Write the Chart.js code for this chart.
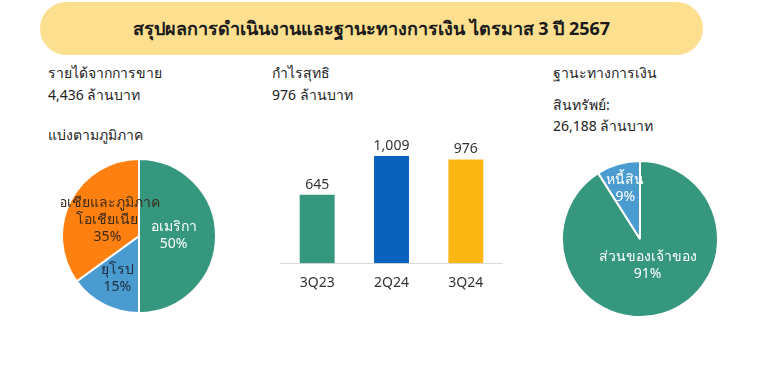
<!DOCTYPE html>
<html lang="th">
<head>
    <meta charset="UTF-8">
    <title>สรุปผลการดำเนินงาน ไตรมาส 3 ปี 2567</title>
    <script src="https://cdn.jsdelivr.net/npm/chart.js"></script>
    <style>
        body {
            margin: 0;
            width: 763px;
            height: 373px;
            position: relative;
            background: #ffffff;
            font-family: "Noto Sans", "Open Sans", sans-serif;
            color: #222;
            overflow: hidden;
        }
        .banner {
            position: absolute;
            left: 40px; top: 2px;
            width: 663px; height: 53px;
            border-radius: 27px;
            background: #fcdf8f;
            text-align: center;
            line-height: 53px;
            font-size: 18px;
            font-weight: bold;
            color: #1a1a1a;
        }
        .txt {
            position: absolute;
            font-size: 14px;
            line-height: 20px;
            white-space: nowrap;
        }
        .box { position: absolute; }
    </style>
</head>
<body>
    <div class="banner">สรุปผลการดำเนินงานและฐานะทางการเงิน ไตรมาส 3 ปี 2567</div>

    <div class="txt" style="left:48px; top:63px;">รายได้จากการขาย</div>
    <div class="txt" style="left:48px; top:85px;">4,436 ล้านบาท</div>
    <div class="txt" style="left:48px; top:125px;">แบ่งตามภูมิภาค</div>

    <div class="txt" style="left:272px; top:63px;">กำไรสุทธิ</div>
    <div class="txt" style="left:272px; top:85px;">976 ล้านบาท</div>

    <div class="txt" style="left:553px; top:63px;">ฐานะทางการเงิน</div>
    <div class="txt" style="left:553px; top:95px;">สินทรัพย์:</div>
    <div class="txt" style="left:553px; top:116px;">26,188 ล้านบาท</div>

    <div class="box" style="left:61px; top:158px; width:156px; height:156px;"><canvas id="regionPie"></canvas></div>
    <div class="box" style="left:280px; top:125px; width:223px; height:169px;"><canvas id="profitBar"></canvas></div>
    <div class="box" style="left:561px; top:160px; width:158px; height:158px;"><canvas id="balancePie"></canvas></div>

    <script>
        // รายได้แบ่งตามภูมิภาค (%)
        const regionLabels = ["อเมริกา", "ยุโรป", "เอเชียและภูมิภาค\nโอเชียเนีย"];
        const regionValues = [50, 15, 35];

        // กำไรสุทธิ (ล้านบาท)
        const quarterLabels = ["3Q23", "2Q24", "3Q24"];
        const profitValues = [645, 1009, 976];

        // ฐานะทางการเงิน (%)
        const balanceLabels = ["ส่วนของเจ้าของ", "หนี้สิน"];
        const balanceValues = [91, 9];

        const TEAL = "#35987e";
        const BLUE = "#4a9bd0";
        const ORANGE = "#fe8011";

        // เขียนชื่อ + เปอร์เซ็นต์ลงบนชิ้นพาย
        const sliceLabels = {
            id: "sliceLabels",
            afterDatasetsDraw(chart, args, opts) {
                const ctx = chart.ctx;
                const meta = chart.getDatasetMeta(0);
                ctx.save();
                ctx.font = "14px 'Noto Sans', sans-serif";
                ctx.textAlign = "center";
                ctx.textBaseline = "middle";
                meta.data.forEach((arc, i) => {
                    const mid = (arc.startAngle + arc.endAngle) / 2;
                    const r = arc.outerRadius * opts.radius[i];
                    const x = arc.x + Math.cos(mid) * r;
                    const y = arc.y + Math.sin(mid) * r;
                    const lines = chart.data.labels[i].split("\n");
                    lines.push(chart.data.datasets[0].data[i] + "%");
                    ctx.fillStyle = opts.colors[i];
                    const lh = 17;
                    lines.forEach((t, k) => {
                        ctx.fillText(t, x, y + (k - (lines.length - 1) / 2) * lh);
                    });
                });
                ctx.restore();
            }
        };

        // ตัวเลขบนแท่ง
        const barValues = {
            id: "barValues",
            afterDatasetsDraw(chart) {
                const ctx = chart.ctx;
                const meta = chart.getDatasetMeta(0);
                ctx.save();
                ctx.font = "14px 'Noto Sans', sans-serif";
                ctx.fillStyle = "#333";
                ctx.textAlign = "center";
                ctx.textBaseline = "bottom";
                meta.data.forEach((bar, i) => {
                    ctx.fillText(profitValues[i].toLocaleString("en-US"), bar.x, bar.y - 3);
                });
                ctx.restore();
            }
        };

        new Chart(document.getElementById("regionPie"), {
            type: "pie",
            data: {
                labels: regionLabels,
                datasets: [{
                    data: regionValues,
                    backgroundColor: [TEAL, BLUE, ORANGE],
                    borderColor: "#ffffff",
                    borderWidth: 2
                }]
            },
            options: {
                responsive: true,
                maintainAspectRatio: false,
                animation: false,
                layout: { padding: 0 },
                plugins: {
                    legend: { display: false },
                    tooltip: { enabled: false },
                    sliceLabels: {
                        radius: [0.45, 0.62, 0.46],
                        colors: ["#ffffff", "#1f2d3d", "#3a2a1a"]
                    }
                }
            },
            plugins: [sliceLabels]
        });

        new Chart(document.getElementById("profitBar"), {
            type: "bar",
            data: {
                labels: quarterLabels,
                datasets: [{
                    data: profitValues,
                    backgroundColor: [TEAL, "#0b62bd", "#fdb714"],
                    categoryPercentage: 1.0,
                    barPercentage: 0.47
                }]
            },
            options: {
                responsive: true,
                maintainAspectRatio: false,
                animation: false,
                layout: { padding: 0 },
                plugins: {
                    legend: { display: false },
                    tooltip: { enabled: false }
                },
                scales: {
                    x: {
                        grid: { display: false },
                        border: { display: true, color: "#d9d9d9", width: 1 },
                        ticks: { color: "#333", font: { size: 14, family: "'Noto Sans', sans-serif" }, padding: 3 }
                    },
                    y: {
                        display: false,
                        min: 0,
                        max: 1300
                    }
                }
            },
            plugins: [barValues]
        });

        new Chart(document.getElementById("balancePie"), {
            type: "pie",
            data: {
                labels: balanceLabels,
                datasets: [{
                    data: balanceValues,
                    backgroundColor: [TEAL, BLUE],
                    borderColor: "#ffffff",
                    borderWidth: 2
                }]
            },
            options: {
                responsive: true,
                maintainAspectRatio: false,
                animation: false,
                layout: { padding: 0 },
                plugins: {
                    legend: { display: false },
                    tooltip: { enabled: false },
                    sliceLabels: {
                        radius: [0.35, 0.68],
                        colors: ["#ffffff", "#ffffff"]
                    }
                }
            },
            plugins: [sliceLabels]
        });
    </script>
</body>
</html>
